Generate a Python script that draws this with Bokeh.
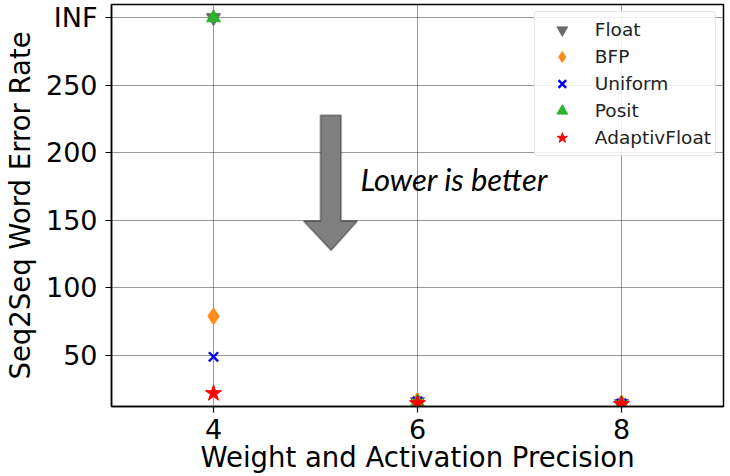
from bokeh.plotting import figure
from bokeh.models import FixedTicker, Label, Range1d, Legend, LegendItem, PolyAnnotation
from bokeh.embed import file_html
from bokeh.resources import INLINE

# ---- data ----
precision = [4, 6, 8]
INF_VAL = 300  # plotted position standing for "INF"
float_wer = [INF_VAL, 15.8, 14.4]
bfp_wer = [79, 16.5, 14.7]
uniform_wer = [49, 15.9, 14.6]
posit_wer = [INF_VAL, 15.5, 14.3]
adaptiv_wer = [22, 14.6, 13.9]

x_ticks = [4, 6, 8]
y_ticks = [50, 100, 150, 200, 250, 300]
y_tick_overrides = {300: "INF"}

FONT = "DejaVu Sans"

p = figure(width=730, height=476, output_backend="svg", toolbar_location=None,
           x_range=Range1d(3, 9), y_range=Range1d(12.25, 309.8),
           min_border_left=110, min_border_right=7, min_border_top=4, min_border_bottom=70)

p.outline_line_color = "black"
p.outline_line_width = 1.5
p.background_fill_color = "white"
p.border_fill_color = "white"

for ax in (p.xaxis[0], p.yaxis[0]):
    ax.axis_line_color = "black"
    ax.axis_line_width = 1.5
    ax.major_tick_line_color = "black"
    ax.major_tick_line_width = 1.2
    ax.major_tick_out = 6
    ax.major_tick_in = 0
    ax.minor_tick_line_color = None
    ax.major_label_text_font = FONT
    ax.major_label_text_font_size = "27px"
    ax.major_label_text_color = "black"
    ax.axis_label_text_font = FONT
    ax.axis_label_text_font_size = "27.5px"
    ax.axis_label_text_font_style = "normal"
    ax.axis_label_text_color = "black"

p.xaxis.ticker = FixedTicker(ticks=x_ticks)
p.yaxis.ticker = FixedTicker(ticks=y_ticks)
p.yaxis.major_label_overrides = y_tick_overrides
p.xaxis.axis_label = "Weight and Activation Precision"
p.yaxis.axis_label = "Seq2Seq Word Error Rate"
p.xaxis.major_label_standoff = 6
p.yaxis.major_label_standoff = 8
p.xaxis.axis_label_standoff = -1
p.yaxis.axis_label_standoff = 7

for g in (p.xgrid, p.ygrid):
    g.grid_line_color = "black"
    g.grid_line_alpha = 0.8
    g.grid_line_dash = "1 1"
    g.grid_line_width = 1

# "Lower is better" block arrow annotation
arrow = PolyAnnotation(
    xs=[5.049, 5.251, 5.251, 5.411, 5.153, 4.883, 5.049],
    ys=[227.8, 227.8, 149.5, 149.5, 127.8, 149.5, 149.5],
    fill_color="#808080", fill_alpha=1.0, line_color="black", line_width=2)
p.add_layout(arrow)
p.add_layout(Label(x=5.44, y=180.5, text="Lower is better", text_font="Lato",
                   text_font_style="italic", text_font_size="31px", text_color="black",
                   text_baseline="alphabetic"))

r_float = p.scatter(precision, float_wer, marker="inverted_triangle", size=14,
                    fill_color="#6b6b6b", line_color="#6b6b6b")
r_bfp = p.scatter(precision, bfp_wer, marker="diamond", size=17,
                  fill_color="#ff8c1a", line_color="#ff8c1a")
r_uni = p.scatter(precision, uniform_wer, marker="x", size=13,
                  line_color="#0000ee", line_width=2.4)
r_posit = p.scatter(precision, posit_wer, marker="triangle", size=14,
                    fill_color="#2cb42c", line_color="#2cb42c")
r_adapt = p.scatter(precision, adaptiv_wer, marker="star", size=17,
                    fill_color="#ff0000", line_color="#ff0000")

legend = Legend(items=[
    LegendItem(label="Float", renderers=[r_float]),
    LegendItem(label="BFP", renderers=[r_bfp]),
    LegendItem(label="Uniform", renderers=[r_uni]),
    LegendItem(label="Posit", renderers=[r_posit]),
    LegendItem(label="AdaptivFloat", renderers=[r_adapt]),
], location="top_right")
legend.label_text_font = FONT
legend.label_text_font_size = "18.5px"
legend.label_text_color = "#222222"
legend.glyph_width = 46
legend.glyph_height = 27
legend.label_height = 27
legend.spacing = 0
legend.padding = 4
legend.margin = 7
legend.label_standoff = 10
legend.border_line_color = "#cccccc"
legend.border_line_width = 1
legend.border_radius = 4
legend.background_fill_alpha = 0.85
p.add_layout(legend)

open("out.html", "w").write(file_html(p, INLINE))
